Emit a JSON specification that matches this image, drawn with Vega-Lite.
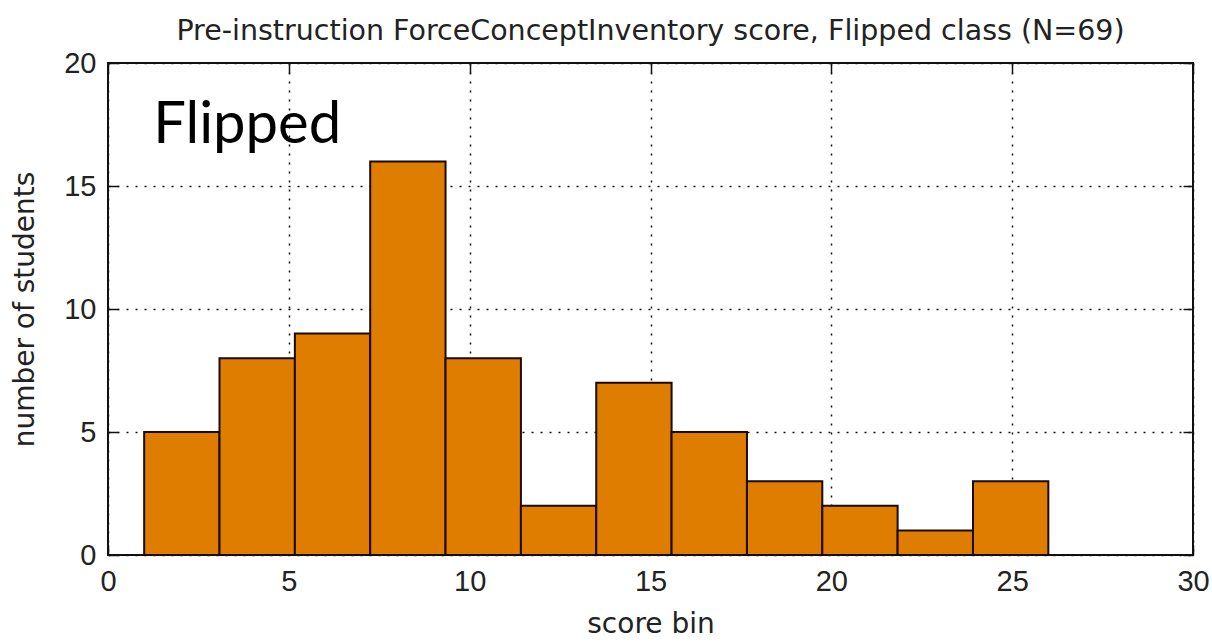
{
  "$schema": "https://vega.github.io/schema/vega-lite/v6.json",
  "width": 1085,
  "height": 492,
  "autosize": {"type": "none"},
  "padding": {"left": 108, "top": 63, "right": 19, "bottom": 87},
  "background": "white",
  "title": {
    "text": "Pre-instruction ForceConceptInventory score, Flipped class (N=69)",
    "font": "DejaVu Sans",
    "fontSize": 28.5,
    "fontWeight": "normal",
    "color": "#222222",
    "offset": 4
  },
  "config": {
    "view": {"stroke": "#111111", "strokeWidth": 2},
    "axis": {
      "labelFont": "Liberation Sans",
      "labelFontSize": 29,
      "labelColor": "#222222",
      "titleFont": "DejaVu Sans",
      "titleFontSize": 28,
      "titleFontWeight": "normal",
      "titleColor": "#222222",
      "domain": false,
      "tickColor": "#111111",
      "tickWidth": 1.5,
      "tickSize": -10,
      "gridColor": "#111111",
      "gridDash": [2, 7],
      "gridWidth": 1.5,
      "gridOpacity": 1
    }
  },
  "layer": [
    {
      "data": {
        "values": [
          {"bin_start": 1.0, "bin_end": 3.083, "count": 5},
          {"bin_start": 3.083, "bin_end": 5.167, "count": 8},
          {"bin_start": 5.167, "bin_end": 7.25, "count": 9},
          {"bin_start": 7.25, "bin_end": 9.333, "count": 16},
          {"bin_start": 9.333, "bin_end": 11.417, "count": 8},
          {"bin_start": 11.417, "bin_end": 13.5, "count": 2},
          {"bin_start": 13.5, "bin_end": 15.583, "count": 7},
          {"bin_start": 15.583, "bin_end": 17.667, "count": 5},
          {"bin_start": 17.667, "bin_end": 19.75, "count": 3},
          {"bin_start": 19.75, "bin_end": 21.833, "count": 2},
          {"bin_start": 21.833, "bin_end": 23.917, "count": 1},
          {"bin_start": 23.917, "bin_end": 26.0, "count": 3}
        ]
      },
      "mark": {"type": "rect", "fill": "#DF7D00", "stroke": "#1a0a00", "strokeWidth": 2},
      "encoding": {
        "x": {
          "field": "bin_start",
          "type": "quantitative",
          "scale": {"domain": [0, 30], "nice": false, "zero": false},
          "axis": {
            "orient": "bottom",
            "values": [0, 5, 10, 15, 20, 25, 30],
            "title": "score bin",
            "titlePadding": 14,
            "labelPadding": 22,
            "labelFlush": false,
            "grid": true
          }
        },
        "x2": {"field": "bin_end"},
        "y": {
          "field": "count",
          "type": "quantitative",
          "scale": {"domain": [0, 20], "nice": false},
          "axis": {
            "orient": "left",
            "values": [0, 5, 10, 15, 20],
            "title": "number of students",
            "titlePadding": 24,
            "labelPadding": 22,
            "labelFlush": false,
            "labelBaseline": "middle",
            "grid": true
          }
        },
        "y2": {"datum": 0}
      }
    },
    {
      "data": {"values": [{"label": "Flipped", "x": 1.25, "y": 16.75}]},
      "mark": {
        "type": "text",
        "font": "Lato",
        "fontSize": 58,
        "align": "left",
        "baseline": "alphabetic",
        "color": "#000000"
      },
      "encoding": {
        "text": {"field": "label"},
        "x": {
          "field": "x",
          "type": "quantitative",
          "axis": {
            "orient": "top",
            "values": [0, 5, 10, 15, 20, 25, 30],
            "labels": false,
            "title": null,
            "grid": false
          }
        },
        "y": {
          "field": "y",
          "type": "quantitative",
          "axis": {
            "orient": "right",
            "values": [0, 5, 10, 15, 20],
            "labels": false,
            "title": null,
            "grid": false
          }
        }
      }
    }
  ],
  "resolve": {"axis": {"x": "independent", "y": "independent"}}
}
